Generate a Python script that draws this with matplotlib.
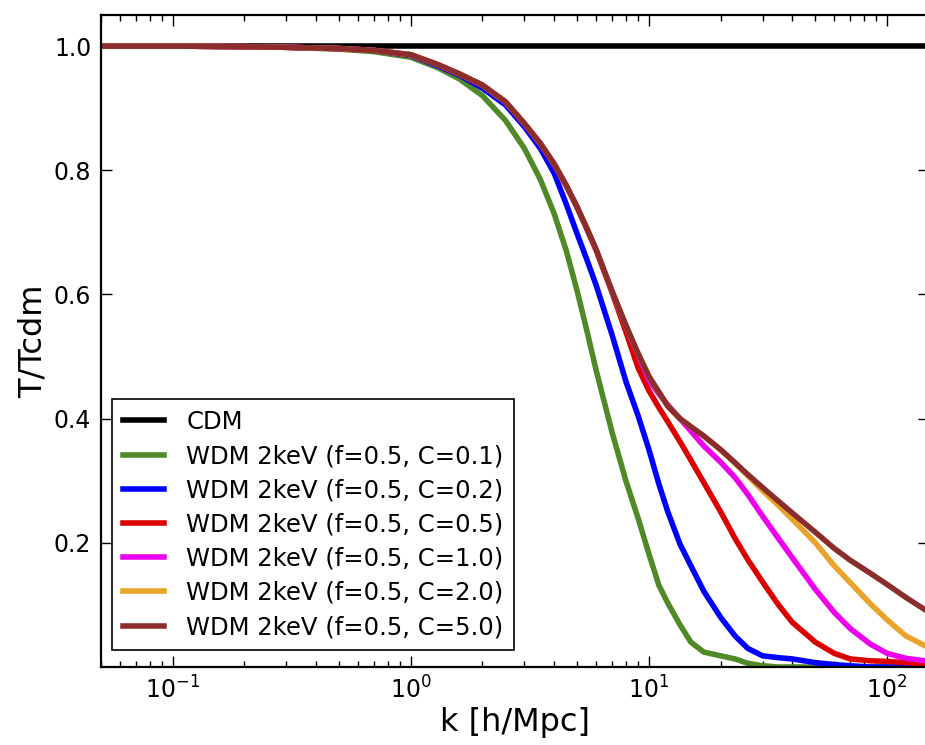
import numpy as np
import matplotlib
matplotlib.use("Agg")
import matplotlib.pyplot as plt
from matplotlib.ticker import LogLocator, NullFormatter

# wavenumber grid [h/Mpc] and transfer ratios
k = [0.05, 0.1, 0.2, 0.3, 0.5, 0.7, 1.0, 1.3, 1.6, 2.0, 2.5, 3.0, 3.5, 4.0,
     4.5, 5.0, 5.5, 6.0, 7.0, 8.0, 9.0, 10, 11, 12, 13.5, 15, 17, 20, 23, 26,
     30, 35, 40, 50, 60, 70, 85, 100, 120, 150]

t_cdm = [1.0] * len(k)
t_c01 = [1.0, 1.0, 0.999, 0.998, 0.995, 0.991, 0.982, 0.965, 0.947, 0.92,
         0.88, 0.835, 0.785, 0.73, 0.67, 0.605, 0.54, 0.478, 0.378, 0.30,
         0.24, 0.182, 0.132, 0.103, 0.068, 0.04, 0.024, 0.018, 0.013, 0.006,
         0.002, 0.0, 0.0, 0.0, 0.0, 0.0, 0.0, 0.0, 0.0, 0.0]
t_c02 = [1.0, 1.0, 0.999, 0.998, 0.996, 0.993, 0.985, 0.968, 0.953, 0.932,
         0.905, 0.87, 0.835, 0.795, 0.745, 0.697, 0.655, 0.615, 0.535, 0.46,
         0.405, 0.35, 0.295, 0.25, 0.198, 0.163, 0.122, 0.08, 0.05, 0.03,
         0.018, 0.015, 0.013, 0.007, 0.004, 0.002, 0.0, 0.0, 0.0, 0.0]
t_c05 = [1.0, 1.0, 0.999, 0.998, 0.996, 0.993, 0.986, 0.97, 0.955, 0.937,
         0.91, 0.875, 0.843, 0.81, 0.775, 0.74, 0.705, 0.672, 0.603, 0.54,
         0.482, 0.445, 0.418, 0.395, 0.363, 0.333, 0.297, 0.25, 0.207, 0.173,
         0.137, 0.10, 0.072, 0.04, 0.022, 0.013, 0.01, 0.009, 0.007, 0.005]
t_c10 = [1.0, 1.0, 0.999, 0.998, 0.996, 0.993, 0.986, 0.97, 0.955, 0.937,
         0.91, 0.875, 0.843, 0.81, 0.775, 0.74, 0.705, 0.672, 0.605, 0.55,
         0.503, 0.462, 0.44, 0.422, 0.40, 0.38, 0.356, 0.33, 0.305, 0.278,
         0.243, 0.207, 0.176, 0.125, 0.088, 0.062, 0.037, 0.022, 0.014, 0.009]
t_c20 = [1.0, 1.0, 0.999, 0.998, 0.996, 0.993, 0.986, 0.97, 0.955, 0.937,
         0.91, 0.875, 0.843, 0.81, 0.775, 0.74, 0.705, 0.672, 0.605, 0.55,
         0.505, 0.468, 0.443, 0.42, 0.40, 0.387, 0.372, 0.35, 0.328, 0.308,
         0.284, 0.26, 0.238, 0.20, 0.163, 0.136, 0.102, 0.076, 0.05, 0.031]
t_c50 = [1.0, 1.0, 0.999, 0.998, 0.996, 0.993, 0.986, 0.97, 0.955, 0.937,
         0.91, 0.875, 0.843, 0.81, 0.775, 0.74, 0.705, 0.672, 0.605, 0.55,
         0.505, 0.468, 0.443, 0.42, 0.40, 0.387, 0.372, 0.35, 0.329, 0.31,
         0.289, 0.267, 0.248, 0.217, 0.191, 0.172, 0.151, 0.133, 0.112, 0.088]

labels = ["CDM",
          "WDM 2keV (f=0.5, C=0.1)",
          "WDM 2keV (f=0.5, C=0.2)",
          "WDM 2keV (f=0.5, C=0.5)",
          "WDM 2keV (f=0.5, C=1.0)",
          "WDM 2keV (f=0.5, C=2.0)",
          "WDM 2keV (f=0.5, C=5.0)"]
colors = ["black", "#4f8a26", "#0000ff", "#dd0000", "#ee00ee", "#eaa42c", "#8c2d2d"]
series = [t_cdm, t_c01, t_c02, t_c05, t_c10, t_c20, t_c50]

fig = plt.figure(figsize=(9.25, 7.45), dpi=100)
ax = fig.add_axes([101/925, 78/745, 828/925, 652/745])

for t, c, lab in zip(series, colors, labels):
    ax.plot(k, t, color=c, lw=4.0, label=lab, solid_joinstyle="round")

ax.set_xscale("log")
ax.set_xlim(0.05, 150)
ax.set_ylim(0.0, 1.05)
ax.set_yticks([0.2, 0.4, 0.6, 0.8, 1.0])
ax.xaxis.set_minor_locator(LogLocator(base=10, subs=np.arange(2, 10)))
ax.xaxis.set_minor_formatter(NullFormatter())

ax.tick_params(which="both", direction="in", top=True, right=True,
               labelsize=17, width=1)
ax.tick_params(which="major", length=8, pad=7)
ax.tick_params(which="minor", length=4)
for s in ax.spines.values():
    s.set_linewidth(1.6)

ax.set_xlabel("k [h/Mpc]", fontsize=23, labelpad=2)
ax.set_ylabel("T/Tcdm", fontsize=23, labelpad=4)

leg = ax.legend(loc="lower left", bbox_to_anchor=(0.0133, 0.026), fontsize=17.5,
                fancybox=False, edgecolor="black", framealpha=1,
                handlelength=1.7, handletextpad=0.9, borderpad=0.45,
                borderaxespad=0, labelspacing=0.42)
leg.get_frame().set_linewidth(1.2)

fig.savefig("out.png", dpi=100)
